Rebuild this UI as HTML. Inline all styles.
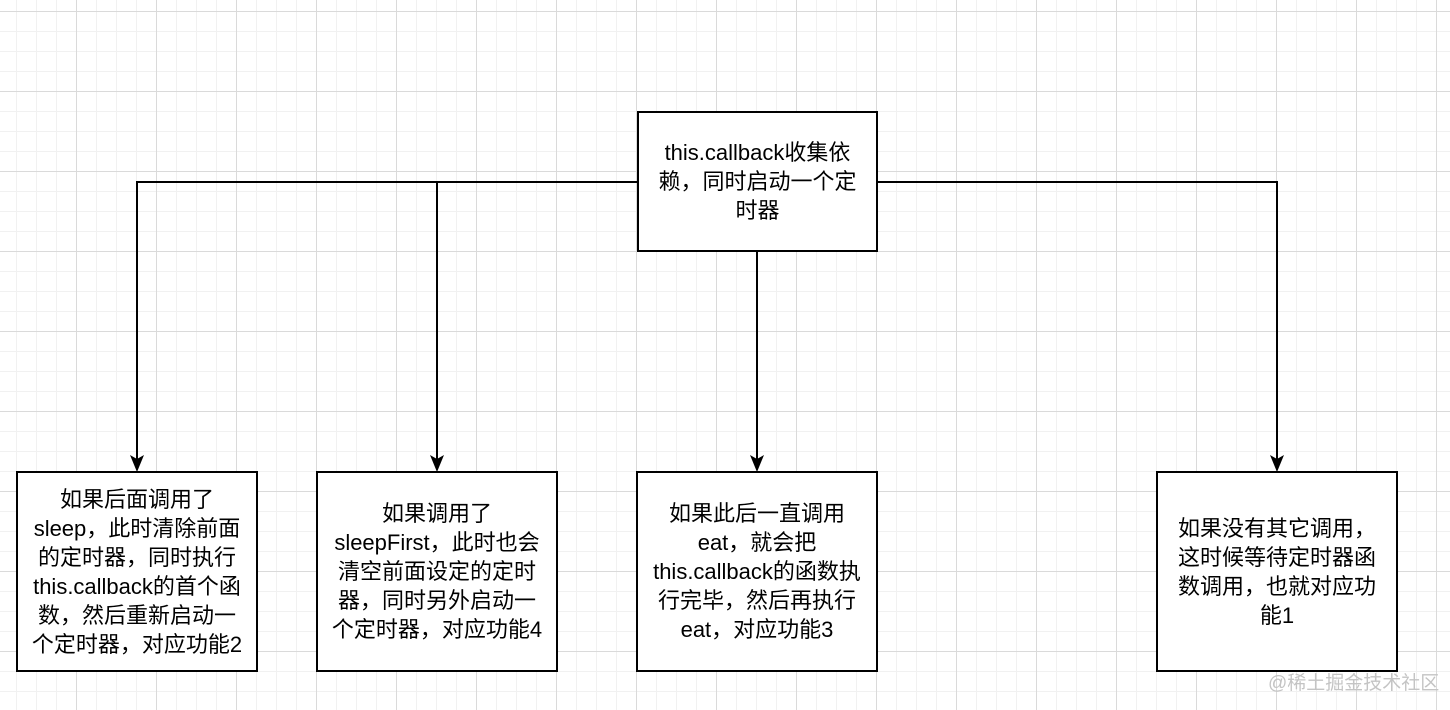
<!DOCTYPE html>
<html><head><meta charset="utf-8"><style>
html,body{margin:0;padding:0}
body{width:1450px;height:710px;position:relative;overflow:hidden;background:#fff;
background-image:
linear-gradient(#dadada 1px,transparent 1px),
linear-gradient(90deg,#dadada 1px,transparent 1px),
linear-gradient(#f1f1f1 1px,transparent 1px),
linear-gradient(90deg,#f1f1f1 1px,transparent 1px);
background-size:80px 80px,80px 80px,20px 20px,20px 20px;
background-position:0 11px,76px 0,0 11px,16px 0;
font-family:"Liberation Sans","Noto Sans CJK SC",sans-serif;}
.b{position:absolute;border:2px solid #000;background:#fff;box-sizing:border-box;display:flex;align-items:center;justify-content:center;text-align:center;font-size:22px;line-height:29px;color:#000;padding:0;white-space:nowrap}
svg{position:absolute;left:0;top:0}
.wm{position:absolute;left:1268px;top:668px;font-size:19px;color:#c4c4c4}
</style></head><body>
<svg width="1450" height="710">
<g stroke="#000" stroke-width="2" fill="none">
<polyline points="638,182 137,182 137,462"/>
<line x1="437" y1="182" x2="437" y2="462"/>
<polyline points="877,182 1277,182 1277,462"/>
<line x1="757" y1="251" x2="757" y2="462"/>
</g>
<g fill="#000">
<polygon points="137,472 130,455 137,459 144,455"/>
<polygon points="437,472 430,455 437,459 444,455"/>
<polygon points="757,472 750,455 757,459 764,455"/>
<polygon points="1277,472 1270,455 1277,459 1284,455"/>
</g>
</svg>
<div class="b" style="left:637px;top:111px;width:241px;height:141px">this.callback收集依<br>赖，同时启动一个定<br>时器</div>
<div class="b" style="left:16px;top:471px;width:242px;height:201px">如果后面调用了<br>sleep，此时清除前面<br>的定时器，同时执行<br>this.callback的首个函<br>数，然后重新启动一<br>个定时器，对应功能2</div>
<div class="b" style="left:316px;top:471px;width:242px;height:201px">如果调用了<br>sleepFirst，此时也会<br>清空前面设定的定时<br>器，同时另外启动一<br>个定时器，对应功能4</div>
<div class="b" style="left:636px;top:471px;width:242px;height:201px">如果此后一直调用<br>eat，就会把<br>this.callback的函数执<br>行完毕，然后再执行<br>eat，对应功能3</div>
<div class="b" style="left:1156px;top:471px;width:242px;height:201px">如果没有其它调用，<br>这时候等待定时器函<br>数调用，也就对应功<br>能1</div>
<div class="wm">@稀土掘金技术社区</div>
</body></html>
